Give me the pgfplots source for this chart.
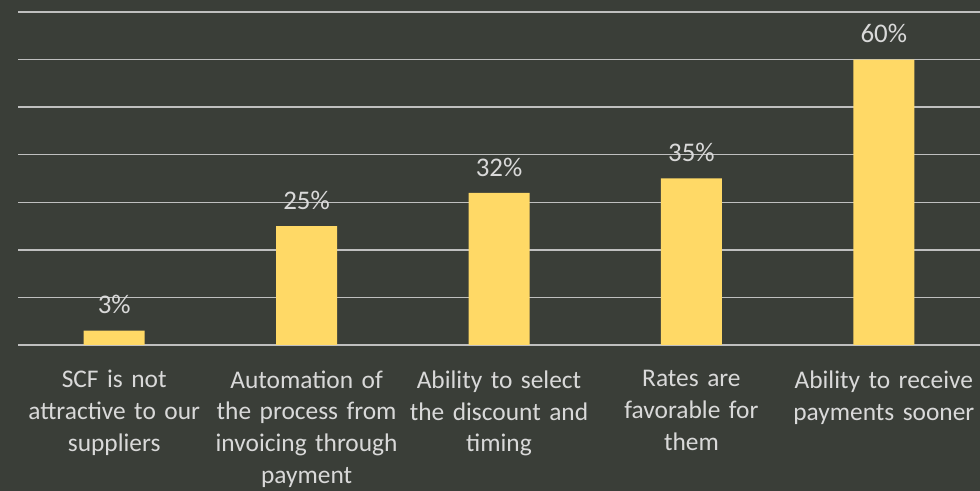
\documentclass[border=0pt]{standalone}
\usepackage{pgfplots}
\pgfplotsset{compat=1.18}
\usepackage{fontspec}
\setmainfont{Carlito}
\definecolor{bg}{HTML}{3A3E38}
\definecolor{grid}{HTML}{BFBFBF}
\definecolor{bar}{HTML}{FFD966}
\definecolor{txt}{HTML}{D9D9D9}
\begin{document}
\begin{tikzpicture}[x=1bp,y=1bp]
\fill[bg] (0,0) rectangle (980,491);
\begin{axis}[
  at={(18bp,146bp)}, anchor=south west,
  scale only axis, width=962bp, height=333bp,
  xmin=-0.5, xmax=4.5, ymin=0, ymax=70,
  ytick={0,10,...,70}, yticklabels={},
  ymajorgrids=true, xmajorgrids=false,
  y grid style={grid, line width=1.5bp},
  separate axis lines,
  y axis line style={draw=none},
  x axis line style={grid, line width=1.5bp, -},
  axis x line*=bottom,
  xtick=data, major tick length=0pt,
  xticklabels={{SCF is not\\attractive to our\\suppliers},{Automation of\\the process from\\invoicing through\\payment},{Ability to select\\the discount and\\timing},{Rates are\\favorable for\\them},{Ability to receive\\payments sooner}},
  xticklabel style={align=center, text width=195bp, font=\fontsize{25.5}{32}\selectfont, text=txt, yshift=-22bp},
  /pgf/number format/assume math mode=true,
  ybar, bar width=61bp,
  nodes near coords={\pgfmathprintnumber{\pgfplotspointmeta}\%},
  every node near coord/.append style={font=\fontsize{27}{30}\selectfont, text=txt, yshift=13bp},
  clip=false,
]
\addplot[fill=bar, draw=none] coordinates {(0,3) (1,25) (2,32) (3,35) (4,60)};
\end{axis}
\pgfresetboundingbox
\useasboundingbox (0,0) rectangle (980,491);
\end{tikzpicture}
\end{document}
